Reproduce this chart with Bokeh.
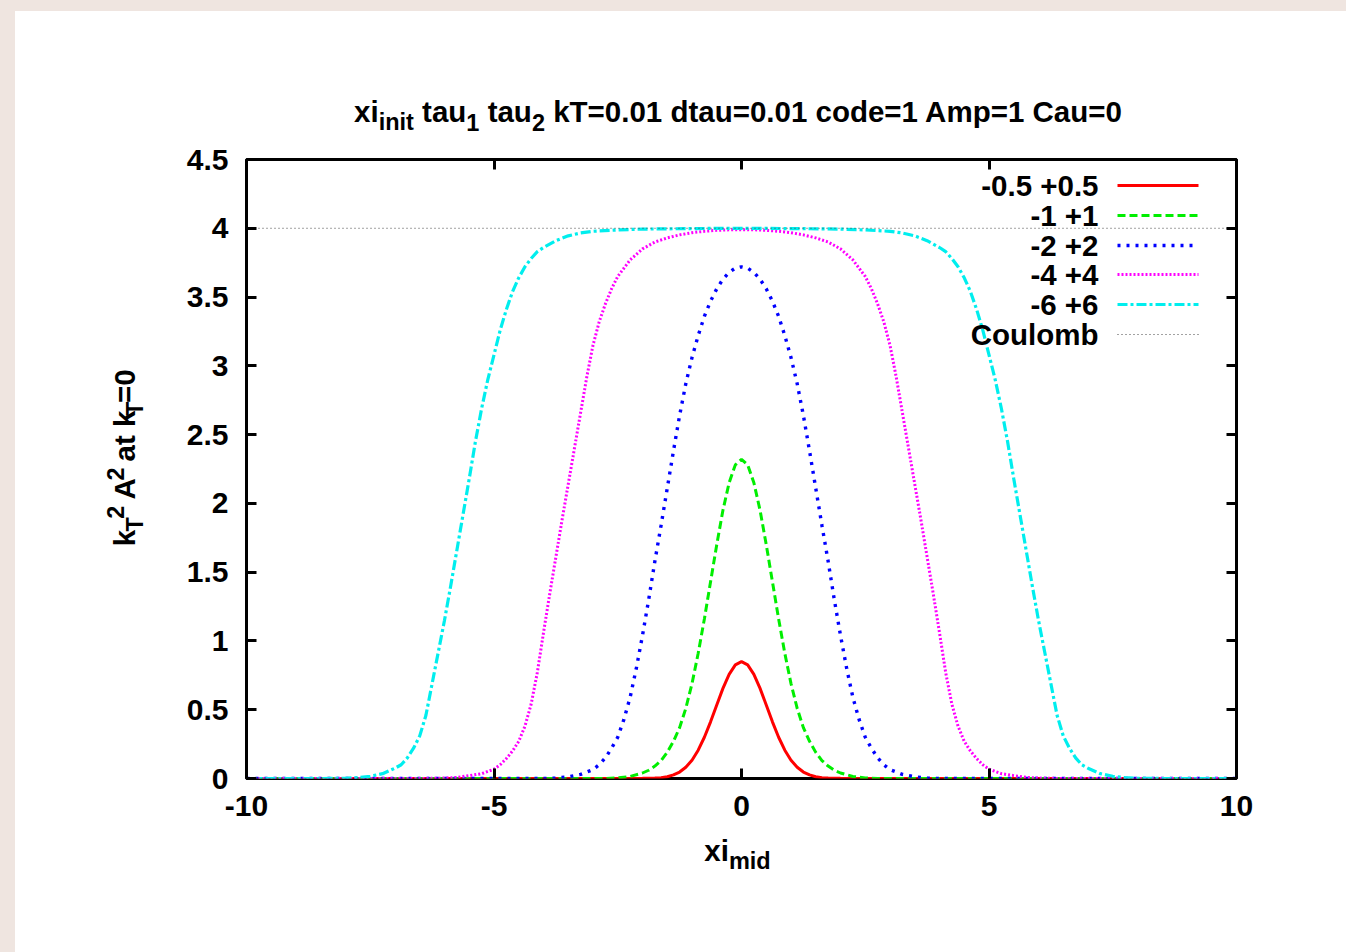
import math
from bokeh.plotting import figure
from bokeh.layouts import column, row
from bokeh.models import (Range1d, FixedTicker, CustomJSTickFormatter, LinearAxis,
                          Label, GlobalInlineStyleSheet)
from bokeh.embed import file_html
from bokeh.resources import INLINE

# ---------------- data ----------------
series_names = ["-0.5 +0.5", "-1 +1", "-2 +2", "-4 +4", "-6 +6", "Coulomb"]
x_ticks = [-10, -5, 0, 5, 10]
y_ticks = [0, 0.5, 1, 1.5, 2, 2.5, 3, 3.5, 4, 4.5]

x_05 = [-10.0, -2.25, -2.0, -1.75, -1.625, -1.5, -1.375, -1.25, -1.125, -1.0, -0.875, -0.75,
        -0.625, -0.5, -0.375, -0.25, -0.125, 0.0,
        0.125, 0.25, 0.375, 0.5, 0.625, 0.75, 0.875, 1.0, 1.125, 1.25, 1.375, 1.5, 1.625,
        1.75, 2.0, 2.25, 10.0]
y_05 = [0.0, 0.0, 0.001, 0.003, 0.006, 0.013, 0.026, 0.047, 0.082, 0.133, 0.206, 0.300,
        0.412, 0.535, 0.655, 0.757, 0.826, 0.850,
        0.826, 0.757, 0.655, 0.535, 0.412, 0.300, 0.206, 0.133, 0.082, 0.047, 0.026, 0.013, 0.006,
        0.003, 0.001, 0.0, 0.0]

x_1 = [-10.0, -2.75, -2.5, -2.25, -2.0, -1.875, -1.75, -1.625, -1.5, -1.375, -1.25, -1.125,
       -1.0, -0.875, -0.75, -0.625, -0.5, -0.375, -0.25, -0.125, 0.0,
       0.125, 0.25, 0.375, 0.5, 0.625, 0.75, 0.875, 1.0, 1.125, 1.25, 1.375, 1.5, 1.625,
       1.75, 1.875, 2.0, 2.25, 2.5, 2.75, 10.0]
y_1 = [0.0, 0.0, 0.004, 0.015, 0.04, 0.06, 0.09, 0.13, 0.19, 0.27, 0.37, 0.51,
       0.69, 0.91, 1.16, 1.43, 1.70, 1.95, 2.15, 2.28, 2.32,
       2.28, 2.15, 1.95, 1.70, 1.43, 1.16, 0.91, 0.69, 0.51, 0.37, 0.27, 0.19, 0.13,
       0.09, 0.06, 0.04, 0.015, 0.004, 0.0, 0.0]

x_2 = [-10.0, -4.0, -3.75, -3.5, -3.25, -3.0, -2.875, -2.75, -2.625, -2.5, -2.375, -2.25, -2.125,
       -2.0, -1.875, -1.75, -1.625, -1.5, -1.375, -1.25, -1.125, -1.0, -0.875, -0.75, -0.625,
       -0.5, -0.375, -0.25, -0.125, 0.0,
       0.125, 0.25, 0.375, 0.5, 0.625, 0.75, 0.875, 1.0, 1.125, 1.25, 1.375, 1.5, 1.625,
       1.75, 1.875, 2.0, 2.125, 2.25, 2.375, 2.5, 2.625, 2.75, 2.875, 3.0, 3.25, 3.5, 3.75, 4.0, 10.0]
y_2 = [0.0, 0.0, 0.003, 0.012, 0.03, 0.065, 0.10, 0.15, 0.22, 0.30, 0.43, 0.59, 0.80,
       1.04, 1.30, 1.58, 1.84, 2.11, 2.38, 2.64, 2.87, 3.06, 3.22, 3.36, 3.47,
       3.56, 3.63, 3.68, 3.71, 3.72,
       3.71, 3.68, 3.63, 3.56, 3.47, 3.36, 3.22, 3.06, 2.87, 2.64, 2.38, 2.11, 1.84,
       1.58, 1.30, 1.04, 0.80, 0.59, 0.43, 0.30, 0.22, 0.15, 0.10, 0.065, 0.03, 0.012, 0.003, 0.0, 0.0]

x_4 = [-10.0, -6.5, -6.0, -5.75, -5.5, -5.25, -5.0, -4.875, -4.75, -4.625, -4.5, -4.375,
       -4.25, -4.125, -4.0, -3.875, -3.75, -3.625, -3.5, -3.375, -3.25, -3.125, -3.0, -2.875,
       -2.75, -2.625, -2.5, -2.25, -2.0, -1.75, -1.5, -1.25, -1.0, -0.75, -0.5, -0.25, 0.0,
       0.25, 0.5, 0.75, 1.0, 1.25, 1.5, 1.75, 2.0, 2.25, 2.5, 2.625, 2.75, 2.875, 3.0, 3.125,
       3.25, 3.375, 3.5, 3.625, 3.75, 3.875, 4.0, 4.125, 4.25, 4.375, 4.5, 4.625, 4.75, 4.875,
       5.0, 5.25, 5.5, 5.75, 6.0, 6.5, 10.0]
y_4 = [0.0, 0.0, 0.003, 0.008, 0.021, 0.035, 0.068, 0.10, 0.145, 0.20, 0.27, 0.38,
       0.54, 0.77, 1.06, 1.34, 1.61, 1.88, 2.14, 2.40, 2.66, 2.92, 3.15, 3.32,
       3.45, 3.56, 3.65, 3.77, 3.85, 3.90, 3.93, 3.952, 3.968, 3.978, 3.985, 3.989, 3.99,
       3.989, 3.985, 3.978, 3.968, 3.952, 3.93, 3.90, 3.85, 3.77, 3.65, 3.56, 3.45, 3.32, 3.15, 2.92,
       2.66, 2.40, 2.14, 1.88, 1.61, 1.34, 1.06, 0.77, 0.54, 0.38, 0.27, 0.20, 0.145, 0.10,
       0.068, 0.035, 0.021, 0.008, 0.003, 0.0, 0.0]

x_6 = [-10.0, -8.5, -8.0, -7.75, -7.5, -7.25, -7.0, -6.875, -6.75, -6.625, -6.5, -6.375,
       -6.25, -6.125, -6.0, -5.875, -5.75, -5.625, -5.5, -5.375, -5.25, -5.125, -5.0, -4.875,
       -4.75, -4.625, -4.5, -4.375, -4.25, -4.125, -4.0, -3.75, -3.5, -3.25, -3.0, -2.5, -2.0,
       -1.0, 0.0,
       1.0, 2.0, 2.5, 3.0, 3.25, 3.5, 3.75, 4.0, 4.125, 4.25, 4.375, 4.5, 4.625, 4.75, 4.875,
       5.0, 5.125, 5.25, 5.375, 5.5, 5.625, 5.75, 5.875, 6.0, 6.125, 6.25, 6.375, 6.5, 6.625,
       6.75, 6.875, 7.0, 7.25, 7.5, 7.75, 8.0, 8.5, 10.0]
y_6 = [0.0, 0.0, 0.002, 0.006, 0.016, 0.035, 0.075, 0.10, 0.15, 0.22, 0.31, 0.46,
       0.69, 0.92, 1.15, 1.40, 1.66, 1.92, 2.18, 2.45, 2.69, 2.90, 3.08, 3.26,
       3.41, 3.54, 3.64, 3.72, 3.78, 3.83, 3.86, 3.91, 3.945, 3.966, 3.978, 3.988, 3.994,
       3.998, 4.0,
       3.998, 3.994, 3.988, 3.978, 3.966, 3.945, 3.91, 3.86, 3.83, 3.78, 3.72, 3.64, 3.54, 3.41, 3.26,
       3.08, 2.90, 2.69, 2.45, 2.18, 1.92, 1.66, 1.40, 1.15, 0.92, 0.69, 0.46, 0.31, 0.22,
       0.15, 0.10, 0.075, 0.035, 0.016, 0.006, 0.002, 0.0, 0.0]

x_coul = [-10.0, 10.0]
y_coul = [4.0, 4.0]

# ---------------- styles ----------------
colors = ["#ff0000", "#00ee00", "#0000ff", "#ff00ff", "#00eeee", "#444444"]
dashes = ["solid", "8 4", "3 6", "2 2", "10 3 3 3", "1 3"]
widths = [3.0, 3.0, 3.4, 3.0, 3.2, 1.0]

FONT = "Liberation Sans"
F = 29.5     # main text px
S = 23.5     # sub/superscript px
FT = 30      # tick labels px
MID = 0.35   # distance baseline -> middle of the em box, in em

# page geometry (layout sits at page x=15, y=11)
PX0, PY0 = 15, 11
FR_L, FR_R, FR_T, FR_B = 246, 1236, 159, 778
TOTAL_W = 1346 - PX0
ROW_TOP, ROW_BOT, LEFT_W = 140, 831, 135

def blank_fig(w, h):
    f = figure(width=w, height=h, x_range=Range1d(0, w), y_range=Range1d(h, 0),
               output_backend="svg", toolbar_location=None, title=None,
               x_axis_location=None, y_axis_location=None,
               min_border_left=0, min_border_right=0, min_border_top=0, min_border_bottom=0)
    f.outline_line_color = None
    f.xgrid.visible = False
    f.ygrid.visible = False
    f.border_fill_color = "white"
    f.background_fill_color = "white"
    return f

top_fig = blank_fig(TOTAL_W, ROW_TOP - PY0)
left_fig = blank_fig(LEFT_W, ROW_BOT - ROW_TOP)
bot_fig = blank_fig(TOTAL_W, 952 - ROW_BOT)

main_w = TOTAL_W - LEFT_W
main_h = ROW_BOT - ROW_TOP
p = figure(width=main_w, height=main_h, x_range=Range1d(-10, 10), y_range=Range1d(0, 4.5),
           output_backend="svg", toolbar_location=None, title=None,
           min_border_left=FR_L - (PX0 + LEFT_W), min_border_right=1346 - FR_R,
           min_border_top=FR_T - ROW_TOP, min_border_bottom=ROW_BOT - FR_B)
p.border_fill_color = "white"
p.background_fill_color = "white"
p.outline_line_color = "black"
p.outline_line_width = 3
p.xgrid.visible = False
p.ygrid.visible = False

XS = (FR_R - FR_L) / 20.0
YS = (FR_B - FR_T) / 4.5

def px2x(px):
    return -10 + (px - FR_L) / XS

def py2y(py):
    return (FR_B - py) / YS

def style_axis(ax, labels=True):
    ax.axis_line_color = None
    ax.major_tick_in = 10
    ax.major_tick_out = 0
    ax.minor_tick_line_color = None
    ax.major_tick_line_color = "black"
    ax.major_tick_line_width = 3
    ax.major_label_text_font = FONT
    ax.major_label_text_font_style = "bold"
    ax.major_label_text_color = "black"
    if labels:
        ax.major_label_text_font_size = f"{FT}px"
        ax.formatter = CustomJSTickFormatter(code="return String(tick)")
    else:
        ax.major_label_text_font_size = "1px"
        ax.major_label_standoff = 0
        ax.formatter = CustomJSTickFormatter(code="return ''")

p.xaxis.ticker = FixedTicker(ticks=x_ticks)
p.yaxis.ticker = FixedTicker(ticks=y_ticks)
style_axis(p.xaxis[0])
style_axis(p.yaxis[0])
p.xaxis.major_label_standoff = 17
p.yaxis.major_label_standoff = 18

top_ax = LinearAxis(ticker=FixedTicker(ticks=x_ticks))
style_axis(top_ax, labels=False)
p.add_layout(top_ax, "above")
right_ax = LinearAxis(ticker=FixedTicker(ticks=y_ticks))
style_axis(right_ax, labels=False)
p.add_layout(right_ax, "right")

# ---------------- curves ----------------
curves = [(x_05, y_05), (x_1, y_1), (x_2, y_2), (x_4, y_4), (x_6, y_6), (x_coul, y_coul)]
for (xs, ys), c, d, w in zip(curves, colors, dashes, widths):
    assert len(xs) == len(ys)
    p.line(xs, ys, line_color=c, line_dash=d, line_width=w)

# ---------------- text helpers ----------------
ADV = {" ": 278, "-": 333, "+": 584, ".": 278, "=": 584,
       "0": 556, "1": 556, "2": 556, "3": 556, "4": 556, "5": 556, "6": 556, "7": 556, "8": 556, "9": 556,
       "a": 556, "b": 611, "c": 556, "d": 611, "e": 556, "f": 333, "g": 611, "h": 611, "i": 278,
       "j": 278, "k": 556, "l": 278, "m": 889, "n": 611, "o": 611, "p": 611, "q": 611, "r": 389,
       "s": 556, "t": 333, "u": 611, "v": 556, "w": 778, "x": 556, "y": 556, "z": 500,
       "A": 722, "C": 722, "T": 611}

def tw(s, size):
    return sum(ADV.get(ch, 556) for ch in s) * size / 1000.0

def put(fig, ox, oy, text, px, py, size, angle=0.0):
    fig.add_layout(Label(x=px - ox, y=py - oy, x_units="data", y_units="data",
                         text=text, angle=angle,
                         text_font=FONT, text_font_style="bold", text_font_size=f"{size}px",
                         text_color="black", text_align="left", text_baseline="middle"))

def hruns(fig, ox, oy, runs, cx, base):
    total = sum(tw(t, s) for t, s, _ in runs)
    x = cx - total / 2.0
    for t, s, sh in runs:
        lead = len(t) - len(t.lstrip(" "))
        x += tw(" " * lead, s)
        body = t.lstrip(" ")
        put(fig, ox, oy, body, x, base - sh - MID * s, s)
        x += tw(body, s)

def vruns(fig, ox, oy, runs, cy, base):
    total = sum(tw(t, s) for t, s, _ in runs)
    y = cy + total / 2.0
    for t, s, sh in runs:
        lead = len(t) - len(t.lstrip(" "))
        y -= tw(" " * lead, s)
        body = t.lstrip(" ")
        put(fig, ox, oy, body, base - sh - MID * s, y, s, angle=math.pi / 2)
        y -= tw(body, s)

SUB, SUP = -9, 11

hruns(top_fig, PX0, PY0,
      [("xi", F, 0), ("init", S, SUB), (" tau", F, 0), ("1", S, SUB), (" tau", F, 0),
       ("2", S, SUB), (" kT=0.01 dtau=0.01 code=1 Amp=1 Cau=0", F, 0)], 738, 121)
hruns(bot_fig, PX0, ROW_BOT, [("xi", F, 0), ("mid", S, SUB)], 737, 860)
vruns(left_fig, PX0, ROW_TOP,
      [("k", F, 0), ("T", S, SUB), ("2", S, SUP), (" A", F, 0), ("2", S, SUP),
       (" at k", F, 0), ("T", S, SUB), ("=0", F, 0)], 475, 134)

# ---------------- key (gnuplot style: text right, sample left) ----------------
key_y = [185, 215, 245, 274, 304, 334]
for name, c, d, w, ky in zip(series_names, colors, dashes, widths, key_y):
    p.add_layout(Label(x=px2x(1098), y=py2y(ky), text=name, text_font=FONT,
                       text_font_style="bold", text_font_size=f"{F}px", text_color="black",
                       text_align="right", text_baseline="middle"))
    p.line([px2x(1117), px2x(1198)], [py2y(ky), py2y(ky)], line_color=c, line_dash=d, line_width=w)

page = column(top_fig, row(left_fig, p, styles={"background-color": "white"}), bot_fig,
              styles={"background-color": "white"})
page.stylesheets = [GlobalInlineStyleSheet(
    css="html, body { background-color: #efe5e0; } body { margin: %dpx 0 0 %dpx; }" % (PY0, PX0))]

open("out.html", "w").write(file_html(page, INLINE))
